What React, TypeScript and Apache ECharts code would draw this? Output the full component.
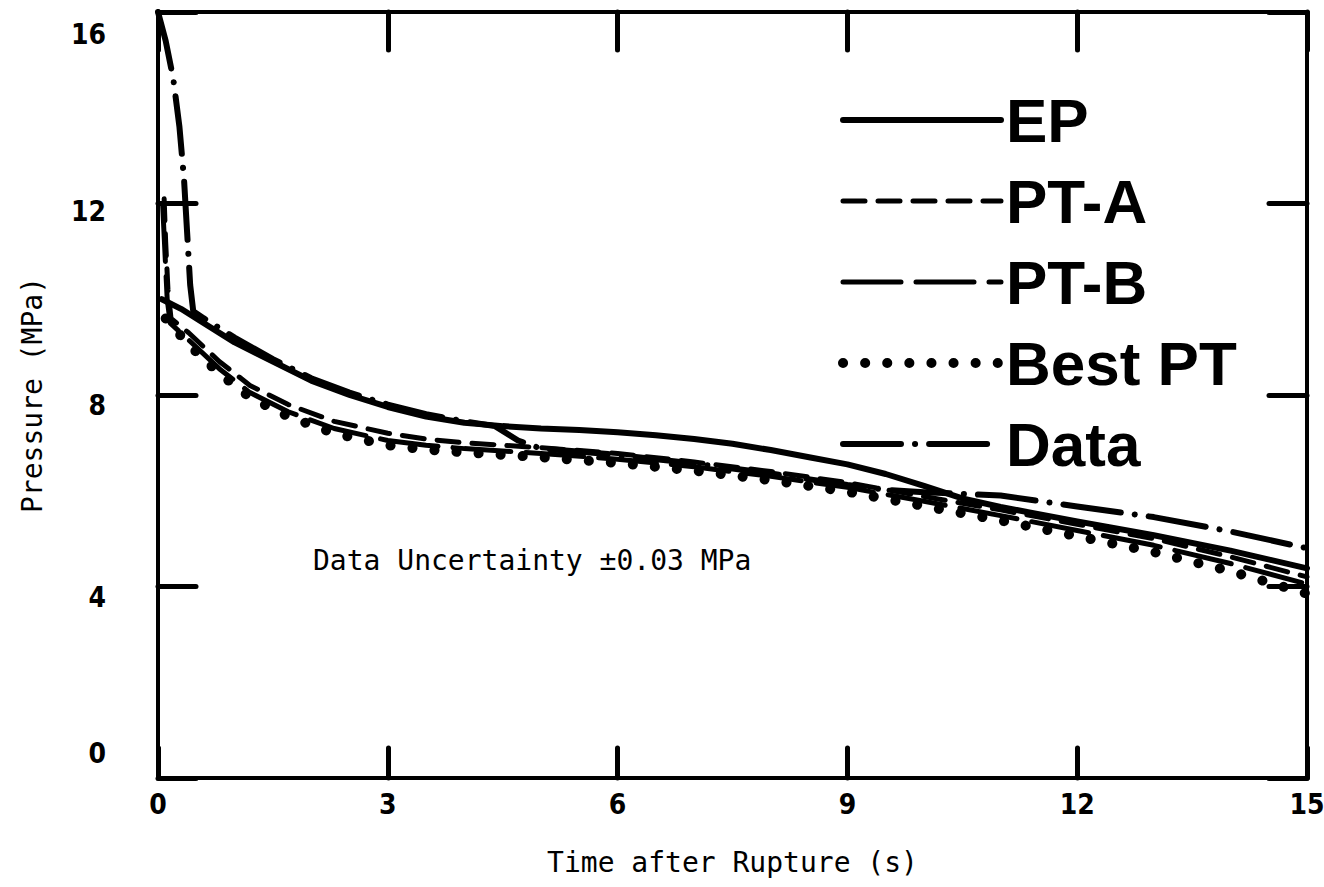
import React, { useEffect, useRef } from "react";
import * as echarts from "echarts";

// ---- Data (time in s, pressure in MPa) ----
const seriesNames = ["EP", "PT-A", "PT-B", "Best PT", "Data"];

const xTicks = { min: 0, max: 15, interval: 3 };
const yTicks = { min: 0, max: 16, interval: 4 };
// where the printed pressure labels sit (they are slightly offset from their ticks in the scan)
const yLabelPositions = [0.52, 3.77, 7.79, 11.83, 15.54];

const epData = [
  [0.05, 10.0], [0.3, 9.8], [0.6, 9.5], [1.0, 9.1], [1.5, 8.7], [2.0, 8.3],
  [2.5, 8.0], [3.0, 7.75], [3.5, 7.55], [4.0, 7.42], [4.5, 7.35], [5.0, 7.3],
  [5.5, 7.27], [6.0, 7.22], [6.5, 7.16], [7.0, 7.08], [7.5, 6.98], [8.0, 6.85],
  [8.5, 6.7], [9.0, 6.55], [9.5, 6.35], [10.0, 6.1], [10.5, 5.84], [11.0, 5.66],
  [12.0, 5.36], [13.0, 5.07], [14.0, 4.75], [15.0, 4.38],
];

const ptAData = [
  [0.08, 12.1], [0.1, 11.2], [0.13, 10.2], [0.17, 9.6], [0.4, 9.3], [0.8, 8.7],
  [1.2, 8.2], [1.7, 7.8], [2.3, 7.45], [3.0, 7.2], [3.5, 7.08], [4.0, 7.0],
  [5.0, 6.9], [6.0, 6.78], [7.0, 6.6], [8.0, 6.4], [9.0, 6.17], [10.0, 5.88],
  [11.0, 5.6], [12.0, 5.3], [13.0, 5.0], [14.0, 4.62], [15.0, 4.2],
];

const ptBData = [
  [0.06, 12.0], [0.09, 11.0], [0.12, 10.0], [0.16, 9.5], [0.4, 9.15], [0.8, 8.55],
  [1.2, 8.05], [1.7, 7.65], [2.3, 7.3], [3.0, 7.05], [3.5, 6.95], [4.0, 6.88],
  [5.0, 6.78], [6.0, 6.66], [7.0, 6.5], [8.0, 6.3], [9.0, 6.07], [10.0, 5.78],
  [11.0, 5.48], [12.0, 5.17], [13.0, 4.86], [14.0, 4.48], [15.0, 4.05],
];

const bestPtData = [
  [0.1, 9.6], [0.4, 9.05], [0.8, 8.45], [1.2, 7.95], [1.7, 7.55], [2.3, 7.2],
  [3.0, 6.95], [3.5, 6.86], [4.0, 6.8], [5.0, 6.7], [6.0, 6.58], [7.0, 6.42],
  [8.0, 6.22], [9.0, 5.98], [10.0, 5.68], [11.0, 5.38], [12.0, 5.05], [13.0, 4.72],
  [14.0, 4.32], [15.0, 3.85],
];

const measuredData = [
  [0.0, 16.0], [0.1, 15.4], [0.2, 14.6], [0.28, 13.6], [0.34, 12.5], [0.38, 11.4],
  [0.42, 10.3], [0.46, 9.75], [0.6, 9.6], [1.0, 9.2], [1.5, 8.75], [2.0, 8.35],
  [2.5, 8.05], [3.0, 7.8], [3.5, 7.6], [4.0, 7.45], [4.4, 7.35], [4.7, 7.05],
  [5.0, 6.88], [6.0, 6.75], [7.0, 6.57], [8.0, 6.36], [9.0, 6.12], [9.5, 6.02],
  [10.0, 5.97], [11.0, 5.9], [12.0, 5.67], [13.0, 5.45], [14.0, 5.15], [15.0, 4.8],
];

const annotationText = "Data Uncertainty \u00b10.03 MPa";
const xName = "Time after Rupture (s)";
const yName = "Pressure (MPa)";

// ---- Styling ----
const INK = "#000";
const tickFont = '"Liberation Sans Narrow", "DejaVu Sans Condensed", "Liberation Sans", sans-serif';
const monoFont = '"DejaVu Sans Mono", "Liberation Mono", monospace';
const legendFont = '"Liberation Sans", Arial, sans-serif';

const lineTypes: Record<string, { width: number; type: any }> = {
  "EP": { width: 6, type: "solid" },
  "PT-A": { width: 5, type: [22, 13] },
  "PT-B": { width: 5, type: [58, 15] },
  "Best PT": { width: 10, type: [0.1, 22] },
  "Data": { width: 6, type: [58, 14, 0.1, 14] },
};

function baseAxis(extra: any) {
  return {
    type: "value",
    splitLine: { show: false },
    axisLine: { show: true, onZero: false, lineStyle: { color: INK, width: 4 } },
    axisTick: { show: true, inside: true, length: 36, lineStyle: { color: INK, width: 5, cap: "round" } },
    ...extra,
  };
}

export default function App() {
  const ref = useRef<HTMLDivElement>(null);

  useEffect(() => {
    document.body.style.margin = "0";
    const chart = echarts.init(ref.current!, undefined, { renderer: "svg" });

    const line = (name: string, data: number[][], z: number) => ({
      name,
      type: "line",
      data,
      symbol: "none",
      showSymbol: false,
      z,
      lineStyle: { color: INK, width: lineTypes[name].width, type: lineTypes[name].type, cap: "round", join: "round" },
      itemStyle: { color: INK },
      emphasis: { disabled: true },
    });

    const option: any = {
      animation: false,
      backgroundColor: "#fff",
      grid: { left: 158, right: 17, top: 12, bottom: 109, containLabel: false, outerBoundsMode: "none" },
      xAxis: [
        baseAxis({
          min: xTicks.min, max: xTicks.max, interval: xTicks.interval,
          position: "bottom",
          axisTick: { show: true, inside: true, length: 30, lineStyle: { color: INK, width: 5, cap: "round" } },
          axisLabel: { show: true, margin: 12, color: INK, fontSize: 28, fontWeight: "bold", fontFamily: tickFont },
          name: xName,
          nameLocation: "middle",
          nameGap: 70,
          nameTextStyle: { color: INK, fontSize: 28, fontFamily: monoFont },
        }),
        baseAxis({
          min: xTicks.min, max: xTicks.max, interval: xTicks.interval,
          position: "top",
          axisTick: { show: true, inside: true, length: 38, lineStyle: { color: INK, width: 5, cap: "round" } },
          axisLabel: { show: false },
        }),
      ],
      yAxis: [
        baseAxis({
          min: yTicks.min, max: yTicks.max, interval: yTicks.interval,
          position: "left",
          axisTick: { show: true, inside: true, length: 38, lineStyle: { color: INK, width: 5, cap: "round" } },
          axisLabel: {
            show: true, margin: 52, color: INK, fontSize: 28, fontWeight: "bold", fontFamily: tickFont,
            customValues: yLabelPositions,
            formatter: (v: number) => String(Math.round(v / yTicks.interval) * yTicks.interval),
          },
          name: yName,
          nameLocation: "middle",
          nameGap: 112,
          nameRotate: 90,
          nameTextStyle: { color: INK, fontSize: 28, fontFamily: monoFont },
        }),
        baseAxis({
          min: yTicks.min, max: yTicks.max, interval: yTicks.interval,
          position: "right",
          axisTick: { show: true, inside: true, length: 38, lineStyle: { color: INK, width: 5, cap: "round" } },
          axisLabel: { show: false },
        }),
      ],
      legend: {
        orient: "vertical",
        left: 833,
        top: 84,
        padding: 5,
        itemWidth: 158,
        itemHeight: 10,
        itemGap: 19,
        selectedMode: false,
        itemStyle: { color: "rgba(0,0,0,0)", borderWidth: 0, opacity: 0 },
        textStyle: { color: INK, fontSize: 62, fontWeight: "bold", fontFamily: legendFont, lineHeight: 62 },
        data: seriesNames.map((name) => ({
          name,
          lineStyle: { color: INK, width: lineTypes[name].width, type: lineTypes[name].type, cap: "round" },
        })),
      },
      graphic: [
        {
          type: "text",
          left: 313,
          top: 546,
          style: { text: annotationText, fill: INK, font: `28px ${monoFont}` },
        },
      ],
      series: [
        line(seriesNames[0], epData, 5),
        line(seriesNames[1], ptAData, 4),
        line(seriesNames[2], ptBData, 4),
        line(seriesNames[3], bestPtData, 3),
        line(seriesNames[4], measuredData, 6),
      ],
    };

    chart.setOption(option);
    return () => chart.dispose();
  }, []);

  return <div ref={ref} style={{ width: 1324, height: 887, background: "#fff" }} />;
}
